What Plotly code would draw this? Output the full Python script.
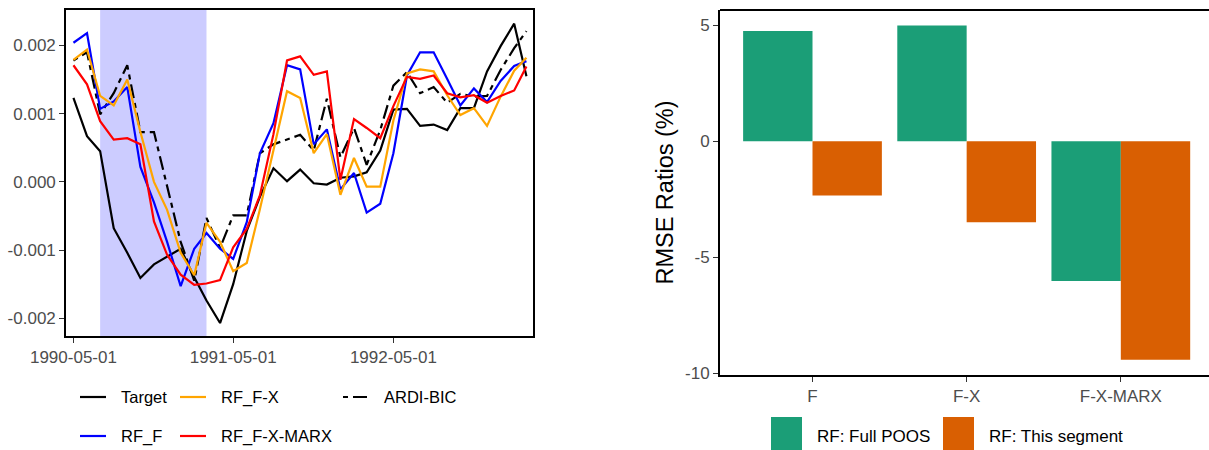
import pandas as pd
import plotly.graph_objects as go

# ---------------- data ----------------
DATES = pd.date_range("1990-05-01", "1993-03-01", freq="MS")

TARGET = [0.00123, 0.00067, 0.00045, -0.00068, -0.00104, -0.00141, -0.00121, -0.00110, -0.00098, -0.00140,
          -0.00174, -0.00207, -0.00150, -0.00072, -0.00022, 0.00020, 0.00001, 0.00018, -0.00002, -0.00004,
          0.00006, 0.00008, 0.00014, 0.00046, 0.00106, 0.00107, 0.00082, 0.00084, 0.00076, 0.00108,
          0.00108, 0.00162, 0.00199, 0.00232, 0.00155]
RF_F = [0.00204, 0.00218, 0.00107, 0.00118, 0.00139, 0.00022, -0.00030, -0.00088, -0.00153, -0.00098,
        -0.00075, -0.00098, -0.00113, -0.00059, 0.00042, 0.00086, 0.00171, 0.00165, 0.00055, 0.00077,
        -0.00011, 0.00013, -0.00045, -0.00032, 0.00042, 0.00156, 0.00190, 0.00190, 0.00151, 0.00112,
        0.00137, 0.00117, 0.00148, 0.00170, 0.00177]
RF_F_X = [0.00179, 0.00194, 0.00126, 0.00112, 0.00150, 0.00073, 0.00000, -0.00041, -0.00104, -0.00137,
          -0.00060, -0.00088, -0.00131, -0.00119, -0.00040, 0.00048, 0.00133, 0.00123, 0.00042, 0.00070,
          -0.00019, 0.00035, -0.00007, -0.00007, 0.00090, 0.00159, 0.00165, 0.00162, 0.00127, 0.00098,
          0.00108, 0.00082, 0.00125, 0.00163, 0.00182]
RF_F_X_MARX = [0.00171, 0.00143, 0.00089, 0.00062, 0.00064, 0.00055, -0.00058, -0.00107, -0.00136, -0.00151,
               -0.00149, -0.00144, -0.00096, -0.00069, -0.00020, 0.00070, 0.00178, 0.00184, 0.00157, 0.00162,
               0.00003, 0.00092, 0.00079, 0.00064, 0.00111, 0.00154, 0.00151, 0.00156, 0.00130, 0.00124,
               0.00127, 0.00116, 0.00126, 0.00134, 0.00169]
ARDI_BIC = [0.00178, 0.00190, 0.00099, 0.00130, 0.00171, 0.00073, 0.00073, -0.00006, -0.00088, -0.00145,
            -0.00053, -0.00097, -0.00049, -0.00049, 0.00042, 0.00055, 0.00062, 0.00069, 0.00046, 0.00122,
            0.00036, 0.00079, 0.00025, 0.00076, 0.00141, 0.00161, 0.00130, 0.00139, 0.00116, 0.00129,
            0.00125, 0.00126, 0.00164, 0.00196, 0.00221]

RECESSION = ("1990-07-01", "1991-03-01")

LINE_Y_TICKS = [-0.002, -0.001, 0.0, 0.001, 0.002]
LINE_Y_LABELS = ["-0.002", "-0.001", "0.000", "0.001", "0.002"]
LINE_X_TICKS = ["1990-05-01", "1991-05-01", "1992-05-01"]

BAR_CATS = ["F", "F-X", "F-X-MARX"]
FULL_POOS = [4.75, 4.98, -6.02]
THIS_SEGMENT = [-2.34, -3.49, -9.41]
BAR_Y_TICKS = [-10, -5, 0, 5]
BAR_Y_LABELS = ["-10", "-5", "0", "5"]

# ---------------- layout helpers ----------------
W, H = 1209, 450
FONT = "Liberation Sans, Arial, Helvetica, sans-serif"
def px(x):
    return x / W
def py(y):
    return 1 - y / H

LINE_W = 2.2
DASH = "5px,5px,14px,5px"

series = [
    ("ARDI-BIC", ARDI_BIC, "black", DASH),
    ("Target", TARGET, "black", "solid"),
    ("RF_F", RF_F, "#0000FF", "solid"),
    ("RF_F-X", RF_F_X, "#FFA500", "solid"),
    ("RF_F-X-MARX", RF_F_X_MARX, "#FF0000", "solid"),
]

fig = go.Figure()
for name, vals, col, dash in series:
    fig.add_trace(go.Scatter(x=DATES, y=vals, mode="lines", name=name,
                             line=dict(color=col, width=LINE_W, dash=dash),
                             xaxis="x", yaxis="y", showlegend=False))

fig.add_trace(go.Bar(x=BAR_CATS, y=FULL_POOS, name="RF: Full POOS", marker_color="#1B9E77",
                     marker_line_width=0, xaxis="x2", yaxis="y2", showlegend=False))
fig.add_trace(go.Bar(x=BAR_CATS, y=THIS_SEGMENT, name="RF: This segment", marker_color="#D95F02",
                     marker_line_width=0, xaxis="x2", yaxis="y2", showlegend=False))

tickfont = dict(family=FONT, size=17, color="#4D4D4D")
common = dict(ticks="outside", ticklen=5, tickwidth=1.2, tickcolor="#333333",
              showgrid=False, zeroline=False, showline=True, linecolor="black",
              automargin=False, tickfont=tickfont)

fig.update_layout(
    width=W, height=H,
    margin=dict(l=0, r=0, t=0, b=0, autoexpand=False),
    paper_bgcolor="white", plot_bgcolor="white",
    barmode="group", bargap=0.1, bargroupgap=0,
    font=dict(family=FONT),
    xaxis=dict(domain=[px(66), px(533)], anchor="y", type="date",
               range=["1990-04-14", "1993-03-16"],
               tickvals=LINE_X_TICKS, ticktext=LINE_X_TICKS,
               linewidth=1.6, mirror=True, **common),
    yaxis=dict(domain=[py(336), py(10)], anchor="x",
               range=[-0.00226, 0.00252],
               tickvals=LINE_Y_TICKS, ticktext=LINE_Y_LABELS,
               linewidth=1.6, mirror=True, **common),
    xaxis2=dict(domain=[px(720), 1.0], anchor="y2", type="category",
                range=[-0.6, 2.572], linewidth=1.8, **common),
    yaxis2=dict(domain=[py(375), py(10)], anchor="x2",
                range=[-10.07, 5.65],
                tickvals=BAR_Y_TICKS, ticktext=BAR_Y_LABELS,
                linewidth=1.8, **common,
                title=dict(text="RMSE Ratios (%)", font=dict(family=FONT, size=23.5, color="black"),
                           standoff=5)),
)

shapes = []
# recession shading
shapes.append(dict(type="rect", xref="x", yref="y domain", x0=RECESSION[0], x1=RECESSION[1],
                   y0=0, y1=1, fillcolor="rgb(204,204,255)", line_width=0, layer="below"))
# top border of the bar panel
shapes.append(dict(type="line", xref="paper", yref="paper", x0=px(720), x1=1.0,
                   y0=py(10), y1=py(10), line=dict(color="black", width=1.8)))

annotations = []
# left legend (two rows, filled by column like the original)
legend_items = [
    ("Target", "black", "solid", 80, 397),
    ("RF_F", "#0000FF", "solid", 80, 436),
    ("RF_F-X", "#FFA500", "solid", 180, 397),
    ("RF_F-X-MARX", "#FF0000", "solid", 180, 436),
    ("ARDI-BIC", "black", DASH, 343, 397),
]
for label, col, dash, kx, ky in legend_items:
    shapes.append(dict(type="line", xref="paper", yref="paper", x0=px(kx), x1=px(kx + 26),
                       y0=py(ky), y1=py(ky), line=dict(color=col, width=LINE_W, dash=dash)))
    annotations.append(dict(text=label, xref="paper", yref="paper", x=px(kx + 39), y=py(ky),
                            xanchor="left", yanchor="middle", showarrow=False,
                            font=dict(family=FONT, size=16.5, color="black")))

# right legend
bar_legend = [("RF: Full POOS", "#1B9E77", 771), ("RF: This segment", "#D95F02", 943)]
for label, col, kx in bar_legend:
    shapes.append(dict(type="rect", xref="paper", yref="paper", x0=px(kx), x1=px(kx + 31),
                       y0=py(417), y1=py(455), fillcolor=col, line_width=0))
    annotations.append(dict(text=label, xref="paper", yref="paper", x=px(kx + 44), y=py(436),
                            xanchor="left", yanchor="middle", showarrow=False,
                            font=dict(family=FONT, size=17, color="black")))

fig.update_layout(shapes=shapes, annotations=annotations)

fig.write_html("out.html",
               config={"displayModeBar": False},
               post_script="document.body.style.margin='0';document.body.style.padding='0';"
                           "document.body.style.overflow='hidden';")
